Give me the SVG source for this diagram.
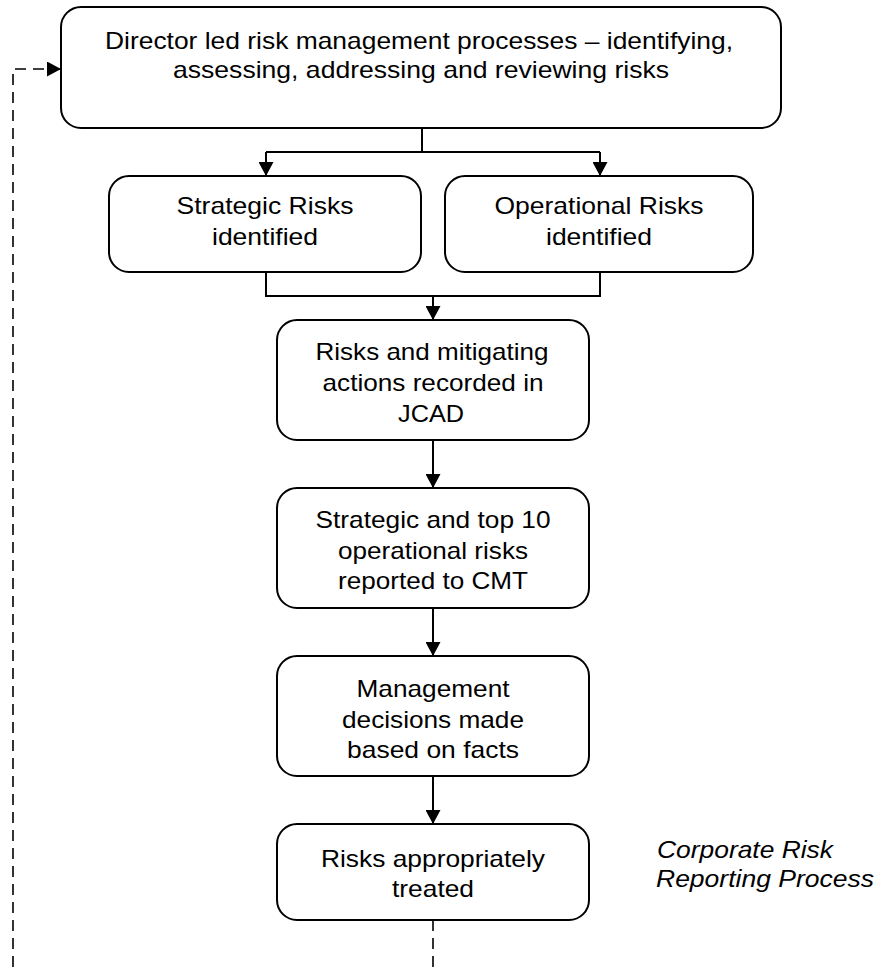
<svg xmlns="http://www.w3.org/2000/svg" width="879" height="967" viewBox="0 0 879 967">
<style>
.box{fill:#fff;stroke:#000;stroke-width:2}
.t{font-family:"Liberation Sans",Arial,sans-serif;font-size:24px;fill:#000;text-anchor:middle}
.c{fill:none;stroke:#000;stroke-width:2}
.d{fill:none;stroke:#000;stroke-width:1.6;stroke-dasharray:11,7}
.i{font-family:"Liberation Sans",Arial,sans-serif;font-size:24px;font-style:italic;fill:#000}
</style>
<defs>
<marker id="ah" markerWidth="15" markerHeight="15" refX="14" refY="7.5" orient="auto" markerUnits="userSpaceOnUse" viewBox="0 0 15 15">
<path d="M0,0 L14,7.5 L0,15 Z" fill="#000"/>
</marker>
</defs>
<rect width="879" height="967" fill="#fff"/>
<g id="connectors">
<path class="c" d="M422,128 V152"/>
<path class="c" d="M266,152 H600"/>
<path class="c" d="M266,152 V176" marker-end="url(#ah)"/>
<path class="c" d="M600,152 V176" marker-end="url(#ah)"/>
<path class="c" d="M266,272 V296 H600 V272"/>
<path class="c" d="M433,296 V320" marker-end="url(#ah)"/>
<path class="c" d="M433,440 V488" marker-end="url(#ah)"/>
<path class="c" d="M433,608 V656" marker-end="url(#ah)"/>
<path class="c" d="M433,776 V824" marker-end="url(#ah)"/>
<path class="d" d="M433,920 V967"/>
<path class="d" d="M13,967 V69 H61" marker-end="url(#ah)"/>
</g>
<g id="n1">
<rect class="box" x="61" y="7" width="720" height="121" rx="20"/>
<text class="t" x="419" y="49" textLength="628" lengthAdjust="spacingAndGlyphs">Director led risk management processes – identifying,</text>
<text class="t" x="421" y="78" textLength="496" lengthAdjust="spacingAndGlyphs">assessing, addressing and reviewing risks</text>
</g>
<g id="n2">
<rect class="box" x="109" y="176" width="312" height="96" rx="20"/>
<text class="t" x="265" y="214" textLength="177" lengthAdjust="spacingAndGlyphs">Strategic Risks</text>
<text class="t" x="265" y="245" textLength="106" lengthAdjust="spacingAndGlyphs">identified</text>
</g>
<g id="n3">
<rect class="box" x="445" y="176" width="308" height="96" rx="20"/>
<text class="t" x="599" y="214" textLength="209" lengthAdjust="spacingAndGlyphs">Operational Risks</text>
<text class="t" x="599" y="245" textLength="106" lengthAdjust="spacingAndGlyphs">identified</text>
</g>
<g id="n4">
<rect class="box" x="277" y="320" width="312" height="120" rx="20"/>
<text class="t" x="432" y="360" textLength="233" lengthAdjust="spacingAndGlyphs">Risks and mitigating</text>
<text class="t" x="433" y="391" textLength="221" lengthAdjust="spacingAndGlyphs">actions recorded in</text>
<text class="t" x="431" y="422" textLength="66" lengthAdjust="spacingAndGlyphs">JCAD</text>
</g>
<g id="n5">
<rect class="box" x="277" y="488" width="312" height="120" rx="20"/>
<text class="t" x="433" y="528" textLength="235" lengthAdjust="spacingAndGlyphs">Strategic and top 10</text>
<text class="t" x="433" y="559" textLength="190" lengthAdjust="spacingAndGlyphs">operational risks</text>
<text class="t" x="433" y="589" textLength="190" lengthAdjust="spacingAndGlyphs">reported to CMT</text>
</g>
<g id="n6">
<rect class="box" x="277" y="656" width="312" height="120" rx="20"/>
<text class="t" x="433" y="697" textLength="153" lengthAdjust="spacingAndGlyphs">Management</text>
<text class="t" x="433" y="728" textLength="182" lengthAdjust="spacingAndGlyphs">decisions made</text>
<text class="t" x="433" y="758" textLength="172" lengthAdjust="spacingAndGlyphs">based on facts</text>
</g>
<g id="n7">
<rect class="box" x="277" y="824" width="312" height="96" rx="20"/>
<text class="t" x="433" y="867" textLength="224" lengthAdjust="spacingAndGlyphs">Risks appropriately</text>
<text class="t" x="433" y="897" textLength="82" lengthAdjust="spacingAndGlyphs">treated</text>
</g>
<g id="caption">
<text class="i" x="657" y="858" textLength="176" lengthAdjust="spacingAndGlyphs">Corporate Risk</text>
<text class="i" x="656" y="887" textLength="218" lengthAdjust="spacingAndGlyphs">Reporting Process</text>
</g>
</svg>
